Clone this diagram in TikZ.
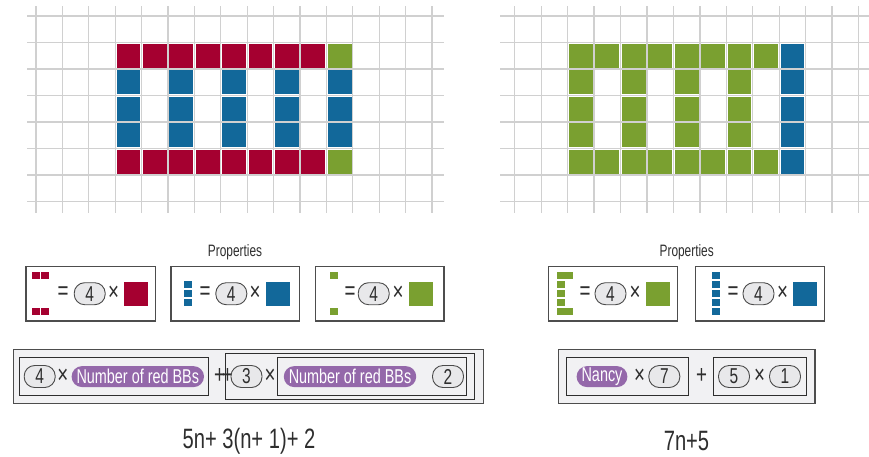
\documentclass[tikz,border=0pt]{standalone}
\usepackage{fontspec}
\setmainfont{Liberation Sans}[FakeStretch=0.72]
\definecolor{bbred}{HTML}{A50030}
\definecolor{bbblue}{HTML}{12689A}
\definecolor{bbgreen}{HTML}{7AA030}
\definecolor{bbpurple}{HTML}{9468AA}
\definecolor{gridgray}{HTML}{D0D0D0}
\definecolor{ovalfill}{HTML}{E8E8EA}
\definecolor{ovalborder}{HTML}{4A4A4A}
\definecolor{boxborder}{HTML}{4D4D4D}
\definecolor{formfill}{HTML}{F1F1F3}
\definecolor{txtgray}{HTML}{2E2E2E}
\tikzset{
  gridline/.style={draw=gridgray, line width=1.3pt},
  oval/.style={draw=ovalborder, fill=ovalfill, rounded corners=10.5pt, minimum width=31pt, minimum height=22pt, inner sep=0pt, line width=0.9pt, text=txtgray, font=\fontsize{21.5}{21.5}\selectfont},
  pill/.style={fill=bbpurple, text=white, rounded corners=10.5pt, minimum height=21pt, inner xsep=5pt, inner ysep=0pt, font=\fontsize{20}{20}\selectfont},
  sym/.style={inner sep=0pt, text=txtgray, font=\fontsize{26}{26}\selectfont},
  propbox/.style={draw=boxborder, fill=white, line width=1.2pt},
  formbox/.style={draw=boxborder, fill=formfill, line width=1.3pt},
  innerbox/.style={draw=txtgray, line width=0.9pt},
  label/.style={inner sep=0pt, text=txtgray, font=\fontsize{16.5}{16.5}\selectfont},
  mathtxt/.style={inner sep=0pt, text=txtgray, font=\fontsize{28}{28}\selectfont},
}
\begin{document}
\begin{tikzpicture}[x=1pt, y=-1pt]
\useasboundingbox (0,0) rectangle (869,456);
% ---------- left grid ----------
\foreach \k in {0,...,15} \draw[gridline] ({36+26.4*\k},6) -- ({36+26.4*\k},213);
\foreach \j in {0,...,7} \draw[gridline] (27,{16+26.5*\j}) -- (444,{16+26.5*\j});
\newcommand{\cellL}[3]{\fill[#3] ({36+26.4*(#1+3)+1.3},{16+26.5*(#2+1)+1.3}) rectangle ({36+26.4*(#1+4)-1.3},{16+26.5*(#2+2)-1.3});}
\foreach \c in {0,...,7} {\cellL{\c}{0}{bbred}\cellL{\c}{4}{bbred}}
\cellL{8}{0}{bbgreen}\cellL{8}{4}{bbgreen}
\foreach \r in {1,2,3} \foreach \c in {0,2,4,6,8} {\cellL{\c}{\r}{bbblue}}
% ---------- right grid ----------
\foreach \k in {0,...,13} \draw[gridline] ({514.7+26.45*\k},6) -- ({514.7+26.45*\k},213);
\foreach \j in {0,...,7} \draw[gridline] (500,{16+26.5*\j}) -- (869,{16+26.5*\j});
\newcommand{\cellR}[3]{\fill[#3] ({514.7+26.45*(#1+2)+1.3},{16+26.5*(#2+1)+1.3}) rectangle ({514.7+26.45*(#1+3)-1.3},{16+26.5*(#2+2)-1.3});}
\foreach \c in {0,...,7} {\cellR{\c}{0}{bbgreen}\cellR{\c}{4}{bbgreen}}
\foreach \r in {0,...,4} {\cellR{8}{\r}{bbblue}}
\foreach \r in {1,2,3} \foreach \c in {0,2,4,6} {\cellR{\c}{\r}{bbgreen}}
% ---------- properties labels ----------
\node[label] (propL) at (235,252) {Properties};
\node[label] (propR) at (686.7,252) {Properties};
% ---------- property boxes ----------
\draw[propbox] (26,266.7) rectangle (155.3,321);
\draw[propbox] (171,266.7) rectangle (299.3,321);
\draw[propbox] (315.7,266.7) rectangle (444,321);
\draw[propbox] (548.3,266.7) rectangle (677.3,321);
\draw[propbox] (695.7,266.7) rectangle (824.3,321);
% box 1 (red corners)
\fill[bbred] (32.3,272) rectangle (40,279.4);
\fill[bbred] (41,272) rectangle (48.7,279.4);
\fill[bbred] (32.3,308) rectangle (40,315.4);
\fill[bbred] (41,308) rectangle (48.7,315.4);
\node[sym] (eq1) at (63,293.5) {=};
\node[oval] (o1) at (89.7,293.7) {4};
\node[sym] (x1) at (113.5,293.5) {×};
\fill[bbred] (124,282) rectangle (148,306);
% box 2 (blue column of 3)
\foreach \i in {0,1,2} \fill[bbblue] (184,{281+9*\i}) rectangle (191.7,{288.4+9*\i});
\node[sym] (eq2) at (205,293.5) {=};
\node[oval] (o2) at (231.3,293.7) {4};
\node[sym] (x2) at (255,293.5) {×};
\fill[bbblue] (266,282) rectangle (290,306);
% box 3 (green corners)
\fill[bbgreen] (330,272) rectangle (337.7,279.4);
\fill[bbgreen] (330,308) rectangle (337.7,315.4);
\node[sym] (eq3) at (350,293.5) {=};
\node[oval] (o3) at (373.7,293.7) {4};
\node[sym] (x3) at (398,293.5) {×};
\fill[bbgreen] (409,282) rectangle (433,306);
% box 4 (green bracket)
\fill[bbgreen] (556.7,272) rectangle (573,279.4);
\foreach \i in {0,1,2} \fill[bbgreen] (556.7,{281+9*\i}) rectangle (565,{288.4+9*\i});
\fill[bbgreen] (556.7,308) rectangle (573,315.4);
\node[sym] (eq4) at (585,293.5) {=};
\node[oval] (o4) at (610.5,293.7) {4};
\node[sym] (x4) at (635,293.5) {×};
\fill[bbgreen] (646,282) rectangle (670,306);
% box 5 (blue column of 5)
\foreach \i in {0,...,4} \fill[bbblue] (711.7,{272+9*\i}) rectangle (720,{279.4+9*\i});
\node[sym] (eq5) at (733,293.5) {=};
\node[oval] (o5) at (758.5,293.7) {4};
\node[sym] (x5) at (782.5,293.5) {×};
\fill[bbblue] (793,282) rectangle (817,306);
% ---------- left formula ----------
\draw[formbox] (13.3,349.3) rectangle (483.3,403.3);
\draw[innerbox] (19.3,357.3) rectangle (208.7,395);
\node[oval] (f4) at (39.7,376.5) {4};
\node[sym] (fx1) at (62.8,376.3) {×};
\node[pill] (fp1) at (137.8,376.6) {Number of red BBs};
\node[sym] (fplus1) at (219.5,376.3) {+};
\node[sym] (fplus2) at (227.5,376.3) {+};
\draw[innerbox] (225.3,353.3) rectangle (474,399.3);
\draw[innerbox] (277.7,357.3) rectangle (466.7,395);
\node[oval] (f3) at (246.5,376.5) {3};
\node[sym] (fx2) at (270,376.3) {×};
\node[pill] (fp2) at (350,376.6) {Number of red BBs};
\node[oval] (f2) at (448,376.5) {2};
% ---------- right formula ----------
\draw[formbox] (558.3,349.3) rectangle (815,403.3);
\draw[innerbox] (566,357.3) rectangle (688.3,395);
\draw[innerbox] (713.3,357.3) rectangle (806.7,395);
\node[pill] (rp) at (602,376.6) {Nancy};
\node[sym] (rx1) at (639.5,376.3) {×};
\node[oval] (r7) at (664.3,376.5) {7};
\node[sym] (rplus) at (701.7,376.3) {+};
\node[oval] (r5) at (734,376.5) {5};
\node[sym] (rx2) at (759.5,376.3) {×};
\node[oval] (r1) at (785,376.5) {1};
% ---------- expressions ----------
\node[mathtxt] (exprL) at (249,441) {5n+ 3(n+ 1)+ 2};
\node[mathtxt] (exprR) at (686.5,441) {7n+5};
\end{tikzpicture}
\end{document}
